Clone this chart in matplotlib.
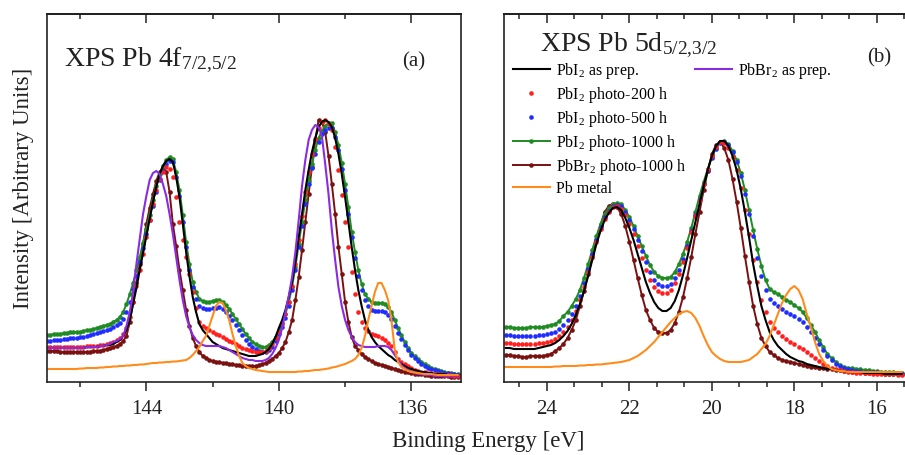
import matplotlib
matplotlib.use('Agg')
import matplotlib.pyplot as plt
from matplotlib.ticker import MultipleLocator
from matplotlib.lines import Line2D

plt.rcParams['font.family'] = ['Liberation Serif', 'DejaVu Serif']
plt.rcParams['mathtext.fontset'] = 'custom'
plt.rcParams['mathtext.rm'] = 'Liberation Serif'
plt.rcParams['mathtext.it'] = 'Liberation Serif:italic'
plt.rcParams['mathtext.bf'] = 'Liberation Serif:bold'

# ---------------- data : panel (a) Pb 4f (binding energy, eV) ----------------
E_a = [147.0, 146.9, 146.8, 146.7, 146.6, 146.5, 146.4, 146.3, 146.2, 146.1,
       146.0, 145.9, 145.8, 145.7, 145.6, 145.5, 145.4, 145.3, 145.2, 145.1,
       145.0, 144.9, 144.8, 144.7, 144.6, 144.5, 144.4, 144.3, 144.2, 144.1,
       144.0, 143.9, 143.8, 143.7, 143.6, 143.5, 143.4, 143.3, 143.2, 143.1,
       143.0, 142.9, 142.8, 142.7, 142.6, 142.5, 142.4, 142.3, 142.2, 142.1,
       142.0, 141.9, 141.8, 141.7, 141.6, 141.5, 141.4, 141.3, 141.2, 141.1,
       141.0, 140.9, 140.8, 140.7, 140.6, 140.5, 140.4, 140.3, 140.2, 140.1,
       140.0, 139.9, 139.8, 139.7, 139.6, 139.5, 139.4, 139.3, 139.2, 139.1,
       139.0, 138.9, 138.8, 138.7, 138.6, 138.5, 138.4, 138.3, 138.2, 138.1,
       138.0, 137.9, 137.8, 137.7, 137.6, 137.5, 137.4, 137.3, 137.2, 137.1,
       137.0, 136.9, 136.8, 136.7, 136.6, 136.5, 136.4, 136.3, 136.2, 136.1,
       136.0, 135.9, 135.8, 135.7, 135.6, 135.5, 135.4, 135.3, 135.2, 135.1,
       135.0, 134.9, 134.8, 134.7, 134.6]
pbi2_prep_a = [34, 34, 34, 34, 34, 34, 34, 34, 34, 34,
               34, 34, 35, 35, 35, 35, 36, 36, 37, 37,
               38, 40, 42, 46, 52, 62, 78, 94, 112, 129,
               146, 163, 180, 195, 208, 216, 221, 223, 220, 205,
               185, 158, 130, 106, 85, 70, 58, 52, 48, 44,
               40, 38, 36, 34, 33, 32, 31, 30, 29, 28,
               27, 26, 26, 26, 27, 28, 30, 33, 38, 45,
               54, 62, 72, 85, 100, 120, 145, 168, 192, 212,
               230, 244, 255, 260, 262, 260, 255, 244, 228, 208,
               185, 160, 135, 112, 92, 76, 62, 52, 45, 40,
               36, 33, 30, 27, 25, 22, 20, 18, 16, 14,
               13, 12, 11, 10, 10, 9, 9, 8, 8, 8,
               8, 7, 7, 7, 7]
pbi2_200_a = [35, 35, 35, 35, 35, 35, 35, 35, 35, 35,
              35, 35, 36, 36, 36, 36, 37, 37, 38, 39,
              40, 42, 44, 48, 54, 65, 80, 96, 112, 128,
              145, 162, 178, 192, 203, 210, 215, 213, 205, 185,
              160, 142, 125, 108, 90, 74, 60, 56, 54, 52,
              50, 48, 47, 45, 43, 41, 40, 38, 36, 34,
              33, 32, 31, 30, 30, 30, 31, 34, 38, 44,
              50, 58, 68, 80, 96, 118, 142, 166, 190, 210,
              228, 243, 254, 260, 262, 258, 252, 235, 212, 187,
              160, 135, 110, 88, 70, 60, 54, 51, 48, 47,
              46, 44, 42, 39, 36, 30, 23, 20, 18, 16,
              14, 12, 11, 10, 10, 9, 9, 8, 8, 8,
              7, 7, 7, 6, 6]
pbi2_500_a = [41, 41, 42, 42, 42, 43, 43, 44, 44, 44,
              45, 45, 46, 47, 48, 49, 50, 51, 52, 53,
              55, 57, 59, 63, 70, 80, 93, 106, 120, 134,
              148, 162, 176, 190, 202, 211, 218, 221, 220, 205,
              186, 160, 135, 112, 95, 83, 76, 74, 73, 73,
              74, 74, 75, 73, 70, 66, 62, 57, 52, 47,
              42, 38, 35, 33, 31, 30, 30, 32, 35, 41,
              48, 55, 64, 76, 92, 112, 135, 156, 178, 198,
              214, 228, 240, 248, 252, 254, 254, 245, 232, 213,
              192, 168, 145, 124, 106, 92, 82, 76, 72, 71,
              71, 71, 70, 67, 63, 56, 49, 43, 37, 32,
              27, 24, 21, 18, 16, 14, 13, 12, 11, 10,
              9, 9, 8, 8, 7]
pbi2_1000_a = [47, 47, 48, 48, 48, 49, 49, 50, 50, 50,
               50, 51, 52, 52, 53, 54, 55, 56, 57, 58,
               60, 62, 65, 70, 78, 88, 99, 112, 125, 139,
               153, 167, 182, 196, 208, 216, 222, 225, 223, 210,
               192, 167, 140, 118, 100, 90, 83, 81, 80, 80,
               81, 82, 82, 80, 77, 73, 68, 63, 58, 53,
               48, 44, 40, 38, 36, 35, 35, 37, 40, 45,
               52, 59, 68, 80, 95, 115, 138, 160, 182, 201,
               218, 232, 244, 251, 256, 259, 259, 250, 237, 219,
               198, 175, 150, 130, 112, 98, 88, 83, 80, 79,
               79, 79, 78, 75, 70, 62, 54, 47, 40, 34,
               29, 26, 23, 20, 18, 16, 14, 13, 12, 11,
               10, 9, 9, 8, 8]
pbbr2_1000_a = [31, 31, 31, 31, 30, 30, 30, 30, 30, 30,
                30, 30, 30, 30, 31, 31, 31, 32, 33, 34,
                35, 36, 38, 41, 46, 60, 80, 99, 118, 138,
                158, 174, 188, 201, 210, 214, 210, 190, 158, 136,
                112, 92, 72, 56, 44, 36, 30, 26, 24, 22,
                21, 20, 20, 19, 19, 18, 18, 17, 17, 16,
                16, 16, 16, 16, 17, 18, 19, 21, 23, 26,
                29, 34, 40, 50, 62, 82, 105, 132, 160, 188,
                215, 242, 262, 260, 250, 226, 198, 168, 135, 108,
                80, 60, 45, 36, 32, 28, 25, 23, 21, 19,
                18, 17, 16, 15, 14, 13, 12, 11, 10, 10,
                9, 8, 8, 8, 7, 7, 6, 6, 6, 6,
                6, 6, 5, 5, 5]
pbbr2_prep_a = [34, 34, 34, 34, 34, 34, 34, 34, 34, 34,
                34, 34, 35, 35, 35, 35, 36, 36, 37, 38,
                40, 41, 43, 46, 56, 70, 90, 118, 143, 168,
                186, 202, 209, 211, 208, 198, 186, 168, 148, 125,
                102, 82, 66, 55, 47, 42, 39, 37, 36, 36,
                36, 36, 36, 35, 34, 32, 30, 28, 26, 24,
                23, 22, 22, 21, 21, 21, 22, 24, 28, 34,
                42, 54, 70, 86, 105, 130, 162, 196, 222, 242,
                252, 257, 255, 246, 218, 188, 152, 122, 95, 76,
                62, 52, 45, 40, 37, 36, 35, 35, 35, 35,
                36, 36, 36, 35, 32, 27, 22, 17, 14, 12,
                10, 9, 8, 8, 7, 7, 7, 6, 6, 6,
                6, 6, 6, 6, 6]
pb_metal_a = [13, 13, 13, 13, 13, 13, 13, 13, 13, 13,
              13.5, 13.5, 14, 14, 14, 14, 14.5, 14.5, 15, 15,
              15.5, 15.5, 16, 16, 16.5, 16.5, 17, 17, 17.5, 17.5,
              18, 18.5, 19, 19, 19.5, 19.5, 20, 20, 20.5, 20.5,
              21, 21.5, 22, 24, 27, 31, 35, 41, 46, 56,
              66, 76, 80, 79, 72, 62, 48, 36, 26, 19,
              16, 14, 13, 12, 11.5, 11, 10.5, 10, 10, 10,
              10, 10, 10, 10, 10, 10, 10.5, 10.5, 11, 11,
              11.5, 12, 12, 12.5, 13, 13.5, 14.5, 15, 16, 17,
              18, 19.5, 21, 23, 27, 34, 46, 62, 76, 90,
              99, 99, 92, 82, 62, 32, 20, 15, 13, 11,
              10, 9.5, 9, 8.5, 8, 8, 8, 7.5, 7, 7,
              7, 7, 7, 7, 7]

# ---------------- data : panel (b) Pb 5d (binding energy, eV) ----------------
E_b = [25.0, 24.9, 24.8, 24.7, 24.6, 24.5, 24.4, 24.3, 24.2, 24.1,
       24.0, 23.9, 23.8, 23.7, 23.6, 23.5, 23.4, 23.3, 23.2, 23.1,
       23.0, 22.9, 22.8, 22.7, 22.6, 22.5, 22.4, 22.3, 22.2, 22.1,
       22.0, 21.9, 21.8, 21.7, 21.6, 21.5, 21.4, 21.3, 21.2, 21.1,
       21.0, 20.9, 20.8, 20.7, 20.6, 20.5, 20.4, 20.3, 20.2, 20.1,
       20.0, 19.9, 19.8, 19.7, 19.6, 19.5, 19.4, 19.3, 19.2, 19.1,
       19.0, 18.9, 18.8, 18.7, 18.6, 18.5, 18.4, 18.3, 18.2, 18.1,
       18.0, 17.9, 17.8, 17.7, 17.6, 17.5, 17.4, 17.3, 17.2, 17.1,
       17.0, 16.9, 16.8, 16.7, 16.6, 16.5, 16.4, 16.3, 16.2, 16.1,
       16.0, 15.9, 15.8, 15.7, 15.6, 15.5, 15.4]
pbi2_prep_b = [34, 34, 33, 33, 33, 33, 33, 33, 34, 35,
               36, 37, 39, 42, 46, 51, 58, 67, 78, 91,
               106, 122, 138, 151, 162, 169, 174, 175, 172, 164,
               154, 142, 128, 114, 100, 89, 80, 74, 71, 71,
               74, 81, 92, 107, 124, 142, 160, 178, 196, 212,
               226, 236, 241, 241, 236, 226, 212, 193, 170, 145,
               118, 96, 76, 62, 50, 42, 36, 32, 28, 25,
               23, 21, 20, 18, 17, 16, 15, 14, 13, 13,
               12, 11, 11, 10, 10, 10, 10, 9, 9, 9,
               9, 9, 8, 8, 8, 8, 8]
pbi2_200_b = [39, 39, 38, 38, 38, 38, 38, 38, 39, 39,
              40, 41, 43, 46, 50, 55, 62, 71, 82, 95,
              110, 125, 140, 153, 163, 170, 175, 176, 173, 167,
              158, 148, 136, 124, 112, 102, 95, 91, 89, 89,
              92, 99, 108, 120, 134, 150, 166, 182, 198, 213,
              226, 235, 240, 239, 234, 225, 212, 194, 172, 148,
              122, 100, 82, 70, 60, 54, 50, 46, 43, 40,
              38, 35, 33, 30, 27, 24, 21, 18, 16, 14,
              13, 12, 11, 10, 10, 9, 9, 9, 9, 8,
              8, 8, 8, 8, 8, 7, 7]
pbi2_500_b = [47, 47, 46, 46, 46, 46, 46, 46, 47, 47,
              48, 49, 50, 53, 57, 62, 68, 76, 86, 99,
              113, 128, 142, 155, 165, 171, 176, 177, 176, 170,
              162, 153, 142, 131, 120, 110, 102, 98, 96, 96,
              98, 104, 112, 123, 136, 151, 167, 183, 198, 212,
              224, 233, 239, 240, 237, 230, 220, 206, 188, 168,
              146, 124, 106, 92, 83, 79, 76, 73, 70, 68,
              66, 63, 60, 55, 50, 44, 38, 32, 26, 22,
              18, 16, 14, 13, 12, 11, 11, 10, 10, 10,
              10, 9, 9, 9, 9, 8, 8]
pbi2_1000_b = [55, 55, 54, 54, 54, 54, 55, 55, 55, 55,
               56, 57, 58, 61, 66, 70, 76, 83, 92, 104,
               118, 132, 146, 158, 168, 174, 178, 179, 178, 172,
               165, 156, 146, 136, 126, 117, 110, 106, 104, 104,
               105, 110, 118, 128, 140, 154, 170, 186, 200, 213,
               225, 234, 240, 241, 238, 231, 222, 209, 192, 172,
               152, 133, 116, 102, 93, 90, 88, 85, 82, 80,
               77, 74, 70, 64, 57, 50, 42, 35, 28, 24,
               20, 17, 15, 14, 14, 13, 13, 12, 12, 11,
               11, 10, 10, 10, 10, 9, 9]
pbbr2_1000_b = [27, 27, 26, 26, 25, 25, 26, 26, 26, 26,
                27, 28, 31, 34, 38, 44, 52, 62, 76, 91,
                108, 125, 142, 157, 170, 176, 178, 175, 168, 156,
                140, 122, 104, 87, 72, 62, 54, 50, 49, 49,
                52, 59, 70, 85, 104, 125, 148, 170, 192, 211,
                228, 237, 240, 234, 222, 203, 180, 154, 126, 100,
                76, 58, 44, 36, 30, 27, 24, 22, 21, 20,
                19, 18, 17, 16, 15, 15, 14, 14, 13, 13,
                12, 12, 11, 11, 10, 10, 10, 9, 9, 9,
                9, 9, 8, 8, 8, 8, 8]
pb_metal_b = [15, 15, 15, 15, 15, 15, 15, 15, 15, 15,
              15, 15, 15.5, 15.5, 16, 16, 16, 16, 16.5, 16.5,
              17, 17, 17.5, 17.5, 18, 18.5, 19, 19.5, 20, 21,
              22, 24, 26, 29, 32, 36, 40, 45, 50, 55,
              60, 64, 68, 70, 71, 69, 64, 56, 46, 37,
              30, 26, 23, 21, 20, 20, 20, 20, 21, 22,
              25, 28, 33, 38, 46, 57, 68, 79, 87, 93,
              96, 92, 83, 68, 55, 40, 28, 21, 16, 13,
              12, 11, 11, 10, 10, 10, 10, 10, 10, 10,
              10, 10, 10, 10, 10, 10, 10]

labels = {
    'pbi2_prep': r'PbI$_2$ as prep.',
    'pbi2_200': r'PbI$_2$ photo-200 h',
    'pbi2_500': r'PbI$_2$ photo-500 h',
    'pbi2_1000': r'PbI$_2$ photo-1000 h',
    'pbbr2_1000': r'PbBr$_2$ photo-1000 h',
    'pb_metal': 'Pb metal',
    'pbbr2_prep': r'PbBr$_2$ as prep.',
}

styles = {
    'pbi2_prep': dict(color='black', lw=1.5, ls='-'),
    'pbi2_200': dict(color='#ff1f1f', ls='none', marker='o', ms=3.3, mew=0),
    'pbi2_500': dict(color='#1f2dff', ls='none', marker='o', ms=3.3, mew=0),
    'pbi2_1000': dict(color='#1e8c22', lw=1.4, marker='o', ms=3.3, mew=0),
    'pbbr2_1000': dict(color='#7a1010', lw=1.4, marker='o', ms=3.3, mew=0),
    'pb_metal': dict(color='#ff8c1a', lw=1.5),
    'pbbr2_prep': dict(color='#8a2be2', lw=1.5),
}

W, H = 905, 456
fig = plt.figure(figsize=(W / 100, H / 100), dpi=100)


def px_axes(l, t, r, b):
    return fig.add_axes([l / W, 1 - b / H, (r - l) / W, (b - t) / H])


axA = px_axes(47, 15, 461, 383)
axB = px_axes(504, 15, 907, 383)

seriesA = [('pbbr2_1000', pbbr2_1000_a), ('pbi2_1000', pbi2_1000_a),
           ('pbi2_500', pbi2_500_a), ('pbi2_200', pbi2_200_a),
           ('pbi2_prep', pbi2_prep_a), ('pbbr2_prep', pbbr2_prep_a),
           ('pb_metal', pb_metal_a)]
for key, ys in seriesA:
    axA.plot(E_a, ys, **styles[key])

handles = {}
seriesB = [('pbbr2_1000', pbbr2_1000_b), ('pbi2_1000', pbi2_1000_b),
           ('pbi2_500', pbi2_500_b), ('pbi2_200', pbi2_200_b),
           ('pbi2_prep', pbi2_prep_b), ('pb_metal', pb_metal_b)]
for key, ys in seriesB:
    h, = axB.plot(E_b, ys, label=labels[key], **styles[key])
    handles[key] = h
handles['pbbr2_prep'] = Line2D([], [], label=labels['pbbr2_prep'], **styles['pbbr2_prep'])


def style_axis(ax, xlim, major, minor):
    ax.set_xlim(*xlim)
    ax.set_ylim(0, 368)
    ax.set_yticks([])
    ax.xaxis.set_major_locator(MultipleLocator(major))
    ax.xaxis.set_minor_locator(MultipleLocator(minor))
    ax.tick_params(axis='x', which='both', direction='out', top=False,
                   labelsize=15, width=1.1, colors='#222222', pad=6)
    ax.tick_params(axis='x', which='major', length=6.5)
    ax.tick_params(axis='x', which='minor', length=3.5)
    for s in ax.spines.values():
        s.set_linewidth(1.2)
        s.set_color('#222222')
    sec = ax.secondary_xaxis('top')
    sec.xaxis.set_major_locator(MultipleLocator(major))
    sec.xaxis.set_minor_locator(MultipleLocator(minor))
    sec.tick_params(axis='x', which='both', direction='in', labeltop=False,
                    width=1.1, colors='#222222')
    sec.tick_params(axis='x', which='major', length=6.5)
    sec.tick_params(axis='x', which='minor', length=3.5)
    sec.spines['top'].set_linewidth(1.2)


style_axis(axA, (147.0, 134.5), 4, 2)
style_axis(axB, (25.04, 15.27), 2, 2 / 3)

axA.text(0.041, 0.861, r'XPS Pb 4f$_{7/2{,}5/2}$', transform=axA.transAxes,
         fontsize=20, va='baseline', ha='left', color='#222222')
axA.text(0.885, 0.861, '(a)', transform=axA.transAxes,
         fontsize=15, va='baseline', ha='center', color='#222222')
axB.text(0.089, 0.902, r'XPS Pb 5d$_{5/2{,}3/2}$', transform=axB.transAxes,
         fontsize=20, va='baseline', ha='left', color='#222222')
axB.text(0.930, 0.872, '(b)', transform=axB.transAxes,
         fontsize=15, va='baseline', ha='center', color='#222222')

order = ['pbi2_prep', 'pbi2_200', 'pbi2_500', 'pbi2_1000', 'pbbr2_1000', 'pb_metal']
leg1 = axB.legend(handles=[handles[k] for k in order], loc='upper left',
                  bbox_to_anchor=(0.022, 0.874), frameon=False, fontsize=11.5,
                  handlelength=2.3, handletextpad=0.4, labelspacing=0.25,
                  borderpad=0, borderaxespad=0, numpoints=1)
axB.add_artist(leg1)
axB.legend(handles=[handles['pbbr2_prep']], loc='upper left',
           bbox_to_anchor=(0.474, 0.874), frameon=False, fontsize=11.5,
           handlelength=2.3, handletextpad=0.4, borderpad=0, borderaxespad=0)

fig.text(24 / W, 1 - 188 / H, 'Intensity [Arbitrary Units]', rotation=90,
         ha='center', va='center', fontsize=16.5, color='#222222')
fig.text(488 / W, 1 - 442 / H, 'Binding Energy [eV]', ha='center', va='center',
         fontsize=16.5, color='#222222')

fig.savefig('out.png', dpi=100)
